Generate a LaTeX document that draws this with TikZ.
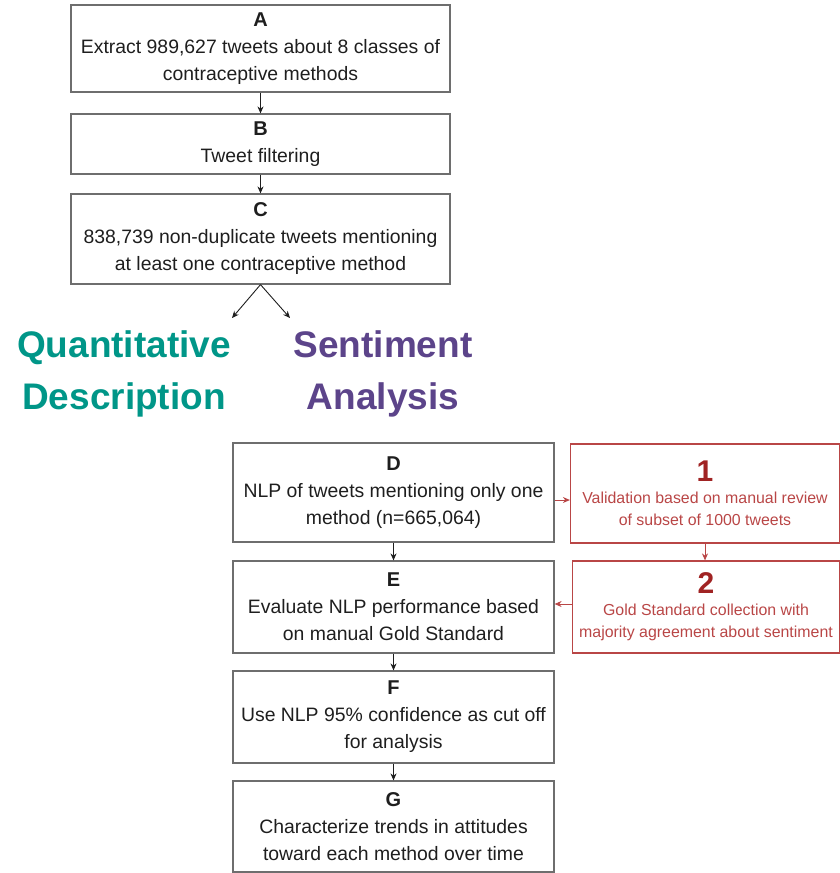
\documentclass[tikz,border=0pt]{standalone}
\usepackage{fontspec}
\setmainfont{Liberation Sans}
\usetikzlibrary{positioning,calc,arrows.meta}
\tikzset{>={Stealth[length=7pt,width=6pt]}}
\definecolor{boxgray}{RGB}{110,110,110}
\definecolor{txtgray}{RGB}{30,30,30}
\definecolor{qteal}{RGB}{0,150,136}
\definecolor{spurple}{RGB}{92,68,138}
\definecolor{valred}{RGB}{185,70,70}
\definecolor{titlered}{RGB}{160,35,35}
\tikzset{
  flowbox/.style={draw=boxgray,line width=1.2pt,align=center,inner sep=0pt,
    text=txtgray,font=\fontsize{19.4}{27}\selectfont},
  checkbox/.style={draw=valred,line width=1.2pt,align=center,inner sep=0pt,
    text=valred,font=\fontsize{15.9}{22}\selectfont},
  flowarrow/.style={->,draw=txtgray,line width=0.9pt},
  redarrow/.style={->,draw=valred,line width=0.9pt}
}
\newcommand{\boxtitle}[1]{{\fontsize{20}{27}\selectfont\bfseries #1}}
\newcommand{\redtitle}[1]{{\fontsize{30}{30}\selectfont\bfseries\color{titlered}#1}}
\begin{document}
\begin{tikzpicture}[x=1pt,y=-1pt]
\useasboundingbox (0,0) rectangle (840,873);
\node[flowbox,minimum width=379pt,minimum height=87pt] (A) at (260.5,48.5)
  {\boxtitle{A}\\Extract 989,627 tweets about 8 classes of\\contraceptive methods};
\node[flowbox,minimum width=379pt,minimum height=60pt] (B) at (260.5,144)
  {\boxtitle{B}\\Tweet filtering};
\node[flowbox,minimum width=379pt,minimum height=90pt] (C) at (260.5,239)
  {\boxtitle{C}\\838,739 non-duplicate tweets mentioning\\at least one contraceptive method};
\coordinate (Cl) at (232,318);
\coordinate (Cr) at (290,318);
\node[align=center,font=\fontsize{37}{52}\selectfont\bfseries,text=qteal] (quant) at (124,374)
  {Quantitative\\Description};
\node[align=center,font=\fontsize{37}{52}\selectfont\bfseries,text=spurple] (senti) at (383,374)
  {Sentiment\\Analysis};
\node[flowbox,minimum width=321pt,minimum height=99pt] (D) at (393.5,492.5)
  {\boxtitle{D}\\NLP of tweets mentioning only one\\method (n=665,064)};
\node[flowbox,minimum width=321pt,minimum height=92pt] (E) at (393.5,607)
  {\boxtitle{E}\\Evaluate NLP performance based\\on manual Gold Standard};
\node[flowbox,minimum width=321pt,minimum height=92pt] (F) at (393.5,717)
  {\boxtitle{F}\\Use NLP 95\% confidence as cut off\\for analysis};
\node[flowbox,minimum width=321pt,minimum height=91pt] (G) at (393.5,826.5)
  {\boxtitle{G}\\Characterize trends in attitudes\\toward each method over time};
\node[checkbox,minimum width=269pt,minimum height=99pt] (V1) at (705,493.5)
  {\redtitle{1}\\Validation based on manual review\\of subset of 1000 tweets};
\node[checkbox,minimum width=267pt,minimum height=92pt] (V2) at (706,607)
  {\redtitle{2}\\Gold Standard collection with\\majority agreement about sentiment};
% main flow
\draw[flowarrow] (A) -- (B);
\draw[flowarrow] (B) -- (C);
\draw[flowarrow] (C.south) -- (Cl);
\draw[flowarrow] (C.south) -- (Cr);
\draw[flowarrow] (D) -- (E);
\draw[flowarrow] (E) -- (F);
\draw[flowarrow] (F) -- (G);
% validation
\draw[redarrow] ($(D.east)+(0,7.5)$) -- ($(V1.west)+(0,6.5)$);
\draw[redarrow] (V1) -- (V1 |- V2.north);
\draw[redarrow] ($(V2.west)+(0,-3)$) -- ($(E.east)+(0,-3)$);
\end{tikzpicture}
\end{document}
